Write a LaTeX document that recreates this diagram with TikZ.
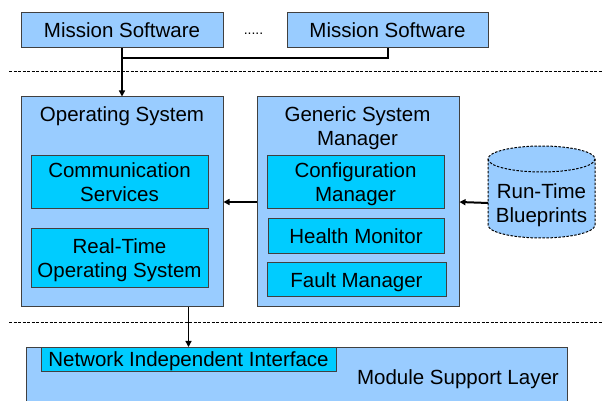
\documentclass[tikz,border=0pt]{standalone}
\usepackage{fontspec}
\setmainfont{Liberation Sans}
\usetikzlibrary{arrows.meta}
\definecolor{outerblue}{HTML}{99CCFF}
\definecolor{innercyan}{HTML}{00CCFF}
\definecolor{edgegray}{HTML}{404040}
\begin{document}
\begin{tikzpicture}[x=1pt,y=1pt,
  txt/.style={font=\fontsize{20.5}{24}\selectfont, align=center, inner sep=0pt, text depth=0pt},
  outerbox/.style={draw=edgegray, line width=1pt, fill=outerblue, inner sep=0pt},
  innerbox/.style={draw=edgegray, line width=1pt, fill=innercyan, inner sep=0pt, txt},
  conn/.style={line width=2pt, draw=black},
  tip/.style={-{Triangle[length=6pt,width=6pt]}},
  sep/.style={line width=1pt, dash pattern=on 3pt off 1.5pt}
]
\clip (0,0) rectangle (603,401);
\fill[white] (0,0) rectangle (603,401);
% top row
\node[outerbox, txt, minimum width=202pt, minimum height=35pt] (ms1) at (122,370.5) {Mission Software};
\node[outerbox, txt, minimum width=201pt, minimum height=35pt] (ms2) at (387.5,370.5) {Mission Software};
\node[txt, anchor=base, font=\fontsize{14}{16}\selectfont] (dots) at (253.5,366) {.....};
\coordinate (j) at (122,343);
\draw[conn] (ms2.south) |- (j);
% separators
\draw[sep] (9,329) -- (603,329);
\draw[sep] (9,78) -- (603,78);
% operating system
\node[outerbox, minimum width=202pt, minimum height=210pt] (os) at (122,199) {};
\node[txt] (ostitle) at (122,287) {Operating System};
\node[innerbox, minimum width=177pt, minimum height=53pt] (comm) at (119.5,218.5) {Communication\\Services};
\node[innerbox, minimum width=177pt, minimum height=59pt] (rtos) at (119.5,142.5) {Real-Time\\Operating System};
\draw[conn, tip] (ms1.south) -- (os.north);
% generic system manager
\node[outerbox, minimum width=202pt, minimum height=210pt] (gsm) at (358,199) {};
\node[txt] (gsmtitle) at (357.5,274.5) {Generic System\\Manager};
\node[innerbox, minimum width=177pt, minimum height=53pt] (conf) at (355.5,218.5) {Configuration\\Manager};
\node[innerbox, minimum width=176pt, minimum height=35pt] (health) at (356,164.5) {Health Monitor};
\node[innerbox, minimum width=179pt, minimum height=34pt] (fault) at (356.5,121) {Fault Manager};
\draw[conn, tip] (gsm.west) -- (os.east);
% cylinder
\path[fill=outerblue, draw=black, line width=1pt, dash pattern=on 2.5pt off 1.5pt]
  (488,242) -- (488,176) arc[start angle=180, end angle=360, x radius=53.5, y radius=13]
  -- (595,242) arc[start angle=0, end angle=180, x radius=53.5, y radius=13] -- cycle;
\draw[line width=1pt, dash pattern=on 2.5pt off 1.5pt]
  (488,242) arc[start angle=180, end angle=360, x radius=53.5, y radius=13];
\node[txt] (blue) at (541.5,198) {Run-Time\\Blueprints};
\coordinate (cw) at (488,198);
\draw[conn, tip] (cw) -- (gsm.east);
% module support layer
\node[outerbox, minimum width=541pt, minimum height=70pt, anchor=north] (msl) at (296.5,54) {};
\node[innerbox, minimum width=295pt, minimum height=24pt, anchor=north] (nii) at (188.5,54) {Network Independent Interface};
\node[txt, anchor=east] (msltxt) at (559,24) {Module Support Layer};
\draw[line width=1.2pt, tip] (os.south -| nii.north) -- (nii.north);
\end{tikzpicture}
\end{document}
